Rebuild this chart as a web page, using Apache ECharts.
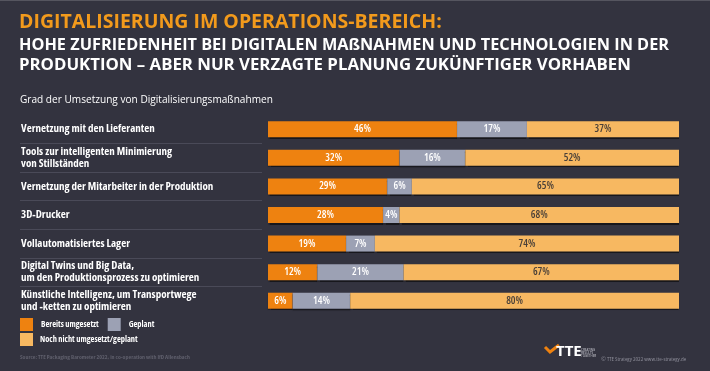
<!DOCTYPE html>
<html><head><meta charset="utf-8">
<script src="https://cdn.jsdelivr.net/npm/echarts@6/dist/echarts.min.js"></script>
<style>html,body{margin:0;padding:0;background:#33333f}#c{width:710px;height:371px}</style>
</head><body><div id="c"></div>
<script>
const categories = [
  'Vernetzung mit den Lieferanten',
  'Tools zur intelligenten Minimierung\nvon Stillständen',
  'Vernetzung der Mitarbeiter in der Produktion',
  '3D-Drucker',
  'Vollautomatisiertes Lager',
  'Digital Twins und Big Data,\num den Produktionsprozess zu optimieren',
  'Künstliche Intelligenz, um Transportwege\nund -ketten zu optimieren'
];
const seriesNames = ['Bereits umgesetzt', 'Geplant', 'Noch nicht umgesetzt/geplant'];
const bereits = [46, 32, 29, 28, 19, 12, 6];
const geplant = [17, 16, 6, 4, 7, 21, 14];
const nochNicht = [37, 52, 65, 68, 74, 67, 80];

const FONT = '"Open Sans", sans-serif';
const BC = 'bold condensed';
const colors = ['#ee8210', '#9ca1b4', '#f7b861'];
const labelColors = ['#ffffff', '#ffffff', '#4a4038'];
const values = [bereits, geplant, nochNicht];

const chart = echarts.init(document.getElementById('c'));
const series = values.map((v, i) => ({
  name: seriesNames[i], type: 'bar', stack: 'total', barWidth: 16,
  xAxisIndex: 0, yAxisIndex: 0,
  data: v,
  itemStyle: { color: colors[i], shadowColor: 'rgba(0,0,0,0.55)', shadowOffsetY: 1.5, shadowBlur: 1 },
  label: { show: true, position: 'inside', formatter: '{c}%', color: labelColors[i],
           fontFamily: FONT, fontWeight: '600 condensed', fontSize: 10.5 }
}));

chart.setOption({
  backgroundColor: '#33333f',
  animation: false,
  title: [
    { text: 'DIGITALISIERUNG IM OPERATIONS-BEREICH:', left: 19, top: 12, padding: 0,
      textStyle: { color: '#f29a1c', fontFamily: FONT, fontWeight: 'bold', fontSize: 19.5 } },
    { text: 'HOHE ZUFRIEDENHEIT BEI DIGITALEN MAßNAHMEN UND TECHNOLOGIEN IN DER',
      left: 19, top: 37, padding: 0,
      textStyle: { color: '#ffffff', fontFamily: FONT, fontWeight: 'bold', fontSize: 16.3 } },
    { text: 'PRODUKTION – ABER NUR VERZAGTE PLANUNG ZUKÜNFTIGER VORHABEN',
      left: 19, top: 57, padding: 0,
      textStyle: { color: '#ffffff', fontFamily: FONT, fontWeight: 'bold', fontSize: 16.8 } },
    { text: 'Grad der Umsetzung von Digitalisierungsmaßnahmen', left: 20, top: 95, padding: 0,
      textStyle: { color: '#ffffff', fontFamily: FONT, fontWeight: 'normal', fontSize: 10.1 } },
    { text: 'Source: TTE Packaging Barometer 2022, in co-operation with IfD Allensbach', left: 20, top: 354, padding: 0,
      textStyle: { color: '#5f5f6c', fontFamily: FONT, fontWeight: BC, fontSize: 5.9 } },
    { text: '© TTE Strategy 2022 www.tte-strategy.de', left: 601, top: 356, padding: 0,
      textStyle: { color: '#8a8a96', fontFamily: FONT, fontWeight: 'normal condensed', fontSize: 6 } }
  ],
  legend: [
    { data: [seriesNames[0], seriesNames[1]], left: 20, top: 318, orient: 'horizontal', padding: 0,
      itemWidth: 13, itemHeight: 13, itemGap: 9, icon: 'rect',
      textStyle: { color: '#ffffff', fontFamily: FONT, fontWeight: BC, fontSize: 8.4, padding: [0, 0, 0, 3] } },
    { data: [seriesNames[2]], left: 20, top: 333, orient: 'horizontal', padding: 0,
      itemWidth: 13, itemHeight: 13, icon: 'rect',
      textStyle: { color: '#ffffff', fontFamily: FONT, fontWeight: BC, fontSize: 8.4, padding: [0, 0, 0, 2] } }
  ],
  grid: [
    { left: 268, right: 31, top: 115, bottom: 56 },
    { left: 20, width: 242, top: 115, bottom: 56 }
  ],
  xAxis: [
    { type: 'value', gridIndex: 0, min: 0, max: 100, show: false },
    { type: 'value', gridIndex: 1, min: 0, max: 100, show: false }
  ],
  yAxis: [
    { type: 'category', gridIndex: 0, data: categories, inverse: true,
      axisLine: { show: false }, axisTick: { show: false }, splitLine: { show: false },
      axisLabel: { align: 'left', margin: 247, color: '#ffffff', fontFamily: FONT,
                   fontWeight: BC, fontSize: 11, lineHeight: 12 } },
    { type: 'category', gridIndex: 1, data: categories, inverse: true,
      axisLine: { show: false }, axisTick: { show: false }, axisLabel: { show: false },
      splitLine: { show: true, showMinLine: false, showMaxLine: false,
                   lineStyle: { color: '#4a4a58', width: 1 } } }
  ],
  graphic: [
    { type: 'rect', shape: { x: 0, y: 0, width: 710, height: 1 }, style: { fill: '#55555f' } },
    { type: 'polyline', shape: { points: [[545, 347], [550, 352], [559, 345]] },
      style: { stroke: '#ee8210', lineWidth: 3, fill: null } },
    { type: 'text', left: 556, top: 344,
      style: { text: 'TTE', fill: '#ffffff', font: 'bold 15px ' + FONT } },
    { type: 'text', left: 581, top: 348,
      style: { text: 'CREATING\nRESULTS\nTOGETHER', fill: '#cfcfd6', font: '3px ' + FONT, lineHeight: 3.3 } }
  ],
  series: series
});
</script></body></html>
